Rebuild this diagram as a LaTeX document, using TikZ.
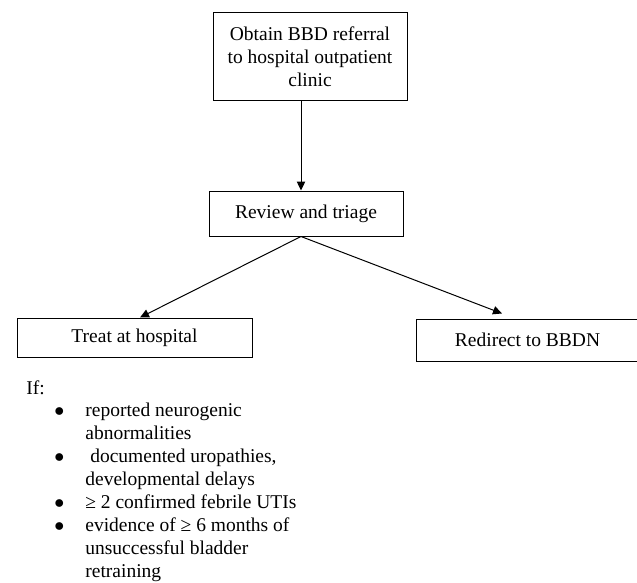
\documentclass[tikz,border=0pt]{standalone}
\usepackage{fontspec}
\setmainfont{Liberation Serif}
\usetikzlibrary{arrows.meta}
\tikzset{
	boxnode/.style={draw=black, line width=0.5pt, align=center, inner sep=0pt},
	arr/.style={-{Triangle[length=4.5pt,width=4.2pt]}, line width=0.5pt},
}
\begin{document}
\begin{tikzpicture}[x=0.5pt, y=-0.5pt, font=\fontsize{9.75}{11.45}\selectfont]
		\useasboundingbox (0, 0) rectangle (637, 583);
		\node[boxnode, minimum width=97pt, minimum height=44pt] (obtain) at (310, 57) {Obtain BBD referral\\to hospital outpatient\\clinic};
		\node[boxnode, minimum width=97pt, minimum height=22.5pt] (review) at (306, 213.5) {Review and triage};
		\node[boxnode, minimum width=117.5pt, minimum height=19.5pt] (treat) at (134.5, 337.5) {Treat at hospital};
		\node[boxnode, minimum width=111.5pt, minimum height=21pt] (redirect) at (527.5, 340) {Redirect to BBDN};
		\draw[arr] ([xshift=-4.5pt]obtain.south) -- ([xshift=-2.5pt]review.north);
		\draw[arr] ([xshift=-2.5pt]review.south) -- ([xshift=2.75pt]treat.north);
		\draw[arr] ([xshift=-2.5pt]review.south) -- ([xshift=-12.75pt, yshift=2.5pt]redirect.north);
		\node[anchor=base west, inner sep=0pt] (cond) at (26, 394) {\begin{tabular}[t]{@{}p{14pt}@{}p{15.5pt}@{}l@{}}
			If: & & \\
			& $\bullet$ & reported neurogenic\\
			& & abnormalities\\
			& $\bullet$ & \ documented uropathies,\\
			& & developmental delays\\
			& $\bullet$ & ≥ 2 confirmed febrile UTIs\\
			& $\bullet$ & evidence of ≥ 6 months of\\
			& & unsuccessful bladder\\
			& & retraining
		\end{tabular}};
\end{tikzpicture}
\end{document}
